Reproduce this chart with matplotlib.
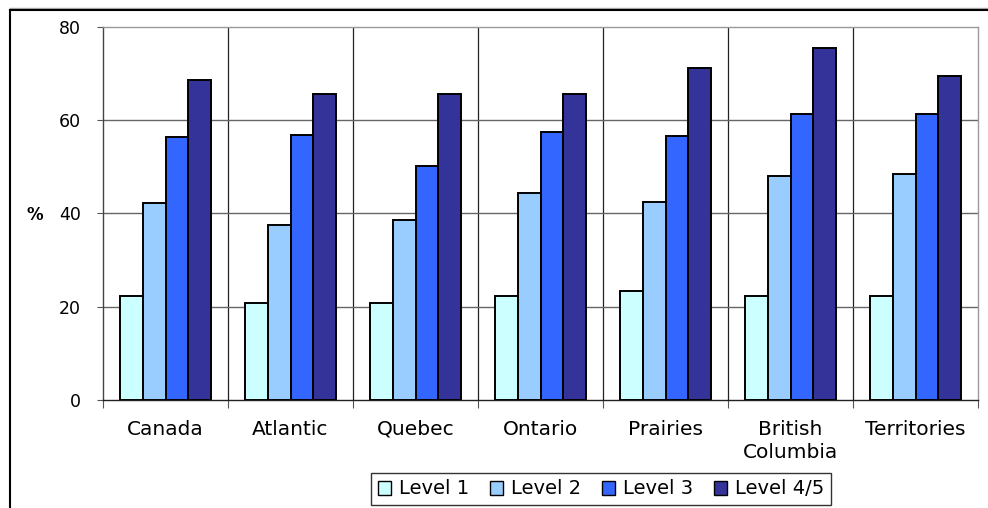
import numpy as np
import matplotlib.pyplot as plt
from matplotlib.lines import Line2D
from matplotlib.patches import Patch

plt.rcParams['font.family'] = ['DejaVu Sans']

regions = ['Canada', 'Atlantic', 'Quebec', 'Ontario', 'Prairies',
           'British\nColumbia', 'Territories']
levels = ['Level 1', 'Level 2', 'Level 3', 'Level 4/5']
level1 = [22.2, 20.7, 20.9, 22.4, 23.4, 22.4, 22.4]
level2 = [42.3, 37.6, 38.7, 44.3, 42.5, 48.1, 48.5]
level3 = [56.5, 56.8, 50.2, 57.4, 56.7, 61.3, 61.3]
level45 = [68.6, 65.7, 65.7, 65.7, 71.3, 75.4, 69.5]
colors = ['#CCFFFF', '#99CCFF', '#3366FF', '#333399']

fig = plt.figure(figsize=(9.88, 5.08), dpi=100)
ax = fig.add_axes([103 / 988, 108 / 508, 875 / 988, 373 / 508])

x = np.arange(len(regions))
w = 0.182
for i, (vals, c) in enumerate(zip([level1, level2, level3, level45], colors)):
    ax.bar(x + (i - 1.5) * w, vals, w, color=c, edgecolor='black',
           linewidth=1.4, zorder=3)

ax.set_xlim(-0.5, len(regions) - 0.5)
ax.set_ylim(0, 80)
ax.set_yticks([0, 20, 40, 60, 80])
ax.tick_params(axis='y', length=4, width=0.8, color='#555555',
               labelsize=12.5, pad=12)

# category separators and tick marks at the boundaries
bounds = np.arange(-0.5, len(regions), 1.0)
ax.set_xticks(bounds)
ax.set_xticklabels([])
ax.tick_params(axis='x', length=6, width=0.8, color='#555555')
for b in bounds[1:-1]:
    ax.axvline(b, color='#222222', linewidth=0.9, zorder=1)
for v in [20, 40, 60]:
    ax.axhline(v, color='#666666', linewidth=1.0, zorder=1)
for xi, name in zip(x, regions):
    ax.text(xi, -4.2, name, ha='center', va='top', fontsize=14.5,
            linespacing=1.3)

ax.spines['left'].set_color('#444444')
ax.spines['bottom'].set_color('#222222')
ax.spines['top'].set_color('#999999')
ax.spines['right'].set_color('#999999')
for s in ax.spines.values():
    s.set_linewidth(1.0)

fig.text(35 / 988, 1 - 215 / 508, '%', ha='center', va='center',
         fontsize=12, fontweight='bold')

handles = [Patch(facecolor=c, edgecolor='black', linewidth=1.0) for c in colors]
leg = fig.legend(handles, levels, loc='center', ncol=4,
                 bbox_to_anchor=(601 / 988, 1 - 489 / 508),
                 fontsize=14, frameon=True, fancybox=False,
                 shadow=False, handlelength=0.7, handleheight=0.7,
                 handletextpad=0.4, columnspacing=1.05, borderpad=0.35,
                 borderaxespad=0)
leg.get_frame().set_edgecolor('black')
leg.get_frame().set_linewidth(1.0)

# outer frame of the chart area
fig.add_artist(Line2D([10 / 988, 1], [1 - 8 / 508, 1 - 8 / 508],
                      transform=fig.transFigure, color='#aaaaaa', lw=1.0))
fig.add_artist(Line2D([10 / 988, 1], [1 - 10 / 508, 1 - 10 / 508],
                      transform=fig.transFigure, color='black', lw=1.5))
fig.add_artist(Line2D([10 / 988, 10 / 988], [0, 1 - 10 / 508],
                      transform=fig.transFigure, color='black', lw=1.5))

fig.savefig('out.png', dpi=100)
